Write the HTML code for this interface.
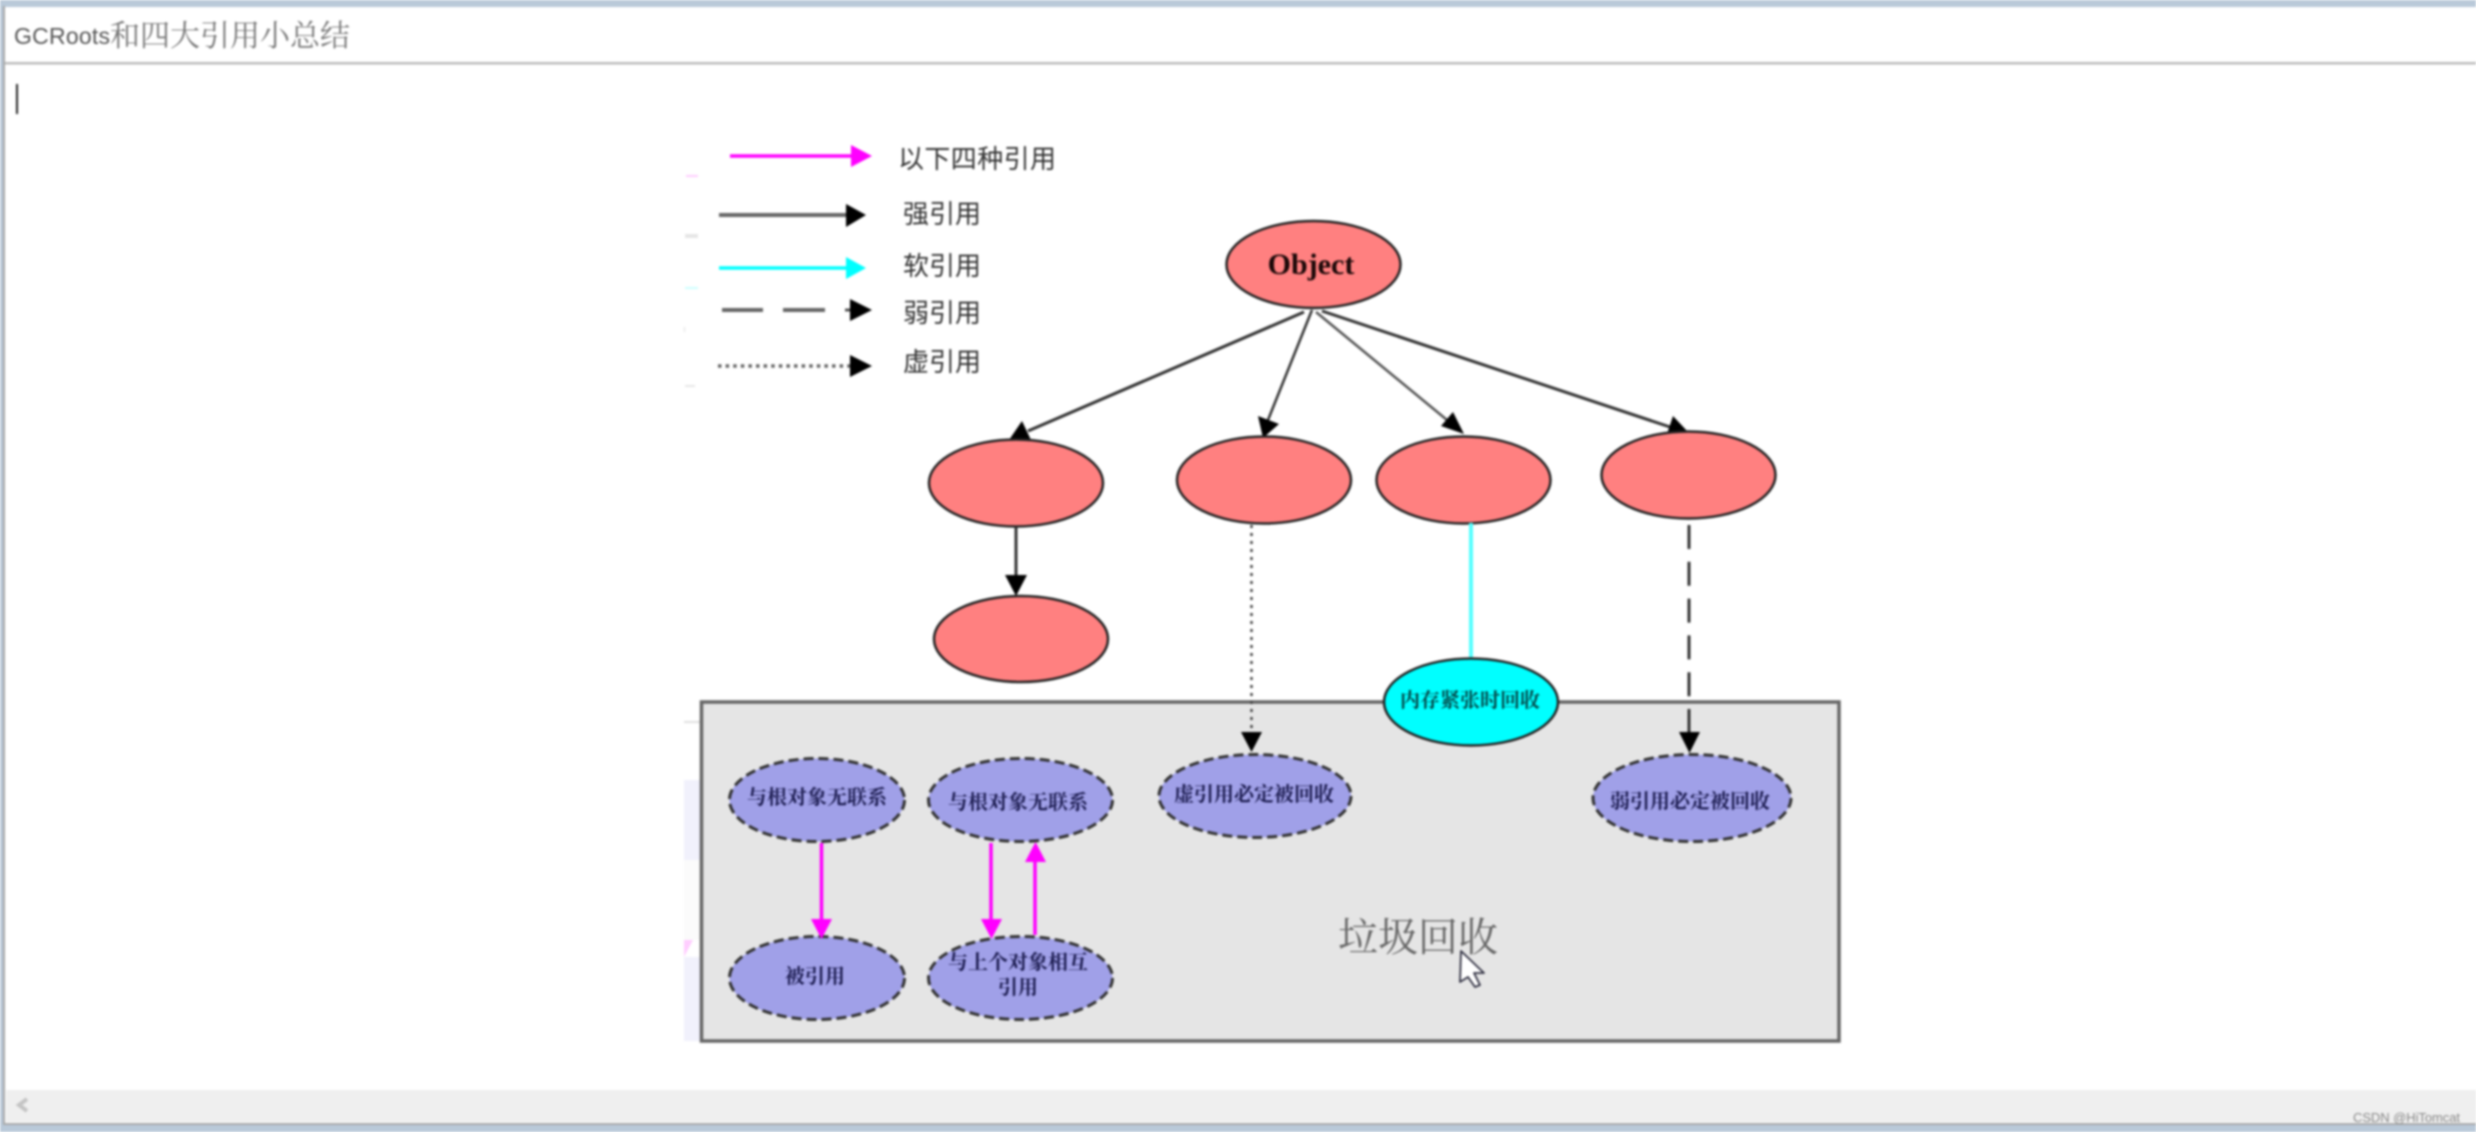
<!DOCTYPE html>
<html><head><meta charset="utf-8"><style>
html,body{margin:0;padding:0;background:#fff;width:2476px;height:1132px;overflow:hidden}
svg{display:block;filter:blur(1px)}
.s{font-family:"Liberation Sans","Noto Sans CJK SC",sans-serif}
.f{font-family:"Liberation Serif","Noto Serif CJK SC",serif}
.lab{font-size:26px;fill:#333;font-family:"Liberation Sans","Noto Sans CJK SC",sans-serif}
.n{font-size:20px;fill:#1c1c50;text-anchor:middle;dominant-baseline:central;font-family:"Liberation Serif","Noto Serif CJK SC",serif;font-weight:700}
.red{fill:#ff8080;stroke:#222;stroke-width:2.5}
.pur{fill:#a0a0e8;stroke:#333;stroke-width:3;stroke-dasharray:10 5}
</style></head><body>
<svg width="2476" height="1132" viewBox="0 0 2476 1132" xmlns="http://www.w3.org/2000/svg">
<rect width="2476" height="1132" fill="#fff"/>
<!-- window frame -->
<rect x="0" y="0" width="2476" height="7" fill="#b9c9d9"/>
<rect x="0" y="0" width="3" height="1132" fill="#b9c9d9"/>
<rect x="3" y="6" width="2" height="1119" fill="#a8a8a8"/>
<rect x="5" y="62" width="2471" height="2.5" fill="#bdbdbd"/>
<rect x="6" y="1090" width="2470" height="32" fill="#efefef"/>
<rect x="3" y="1123" width="2473" height="2" fill="#a8a8a8"/>
<rect x="0" y="1125" width="2476" height="7" fill="#b9c9d9"/>
<polyline points="27,1099 19,1105 27,1111" fill="none" stroke="#c4c4c4" stroke-width="4"/>
<text class="s" x="2353" y="1122" font-size="13" fill="#888" textLength="107">CSDN @HiTomcat</text>
<!-- title -->
<text class="s" x="14" y="44" font-size="23" fill="#555" textLength="96">GCRoots</text>
<text class="f" x="110" y="46" font-size="30" fill="#777">和四大引用小总结</text>
<rect x="16" y="84" width="2" height="30" fill="#222"/>

<!-- faint residue -->
<g opacity=".9">
<rect x="686" y="175" width="12" height="2" fill="#ffc8ff"/>
<rect x="685" y="234" width="13" height="4" fill="#e4e4e4"/>
<rect x="685" y="287" width="13" height="2" fill="#c8ffff"/>
<rect x="684" y="327" width="1" height="5" fill="#ddd"/>
<rect x="685" y="385" width="10" height="2" fill="#e4e4e4"/>
<rect x="684" y="780" width="17" height="80" fill="#f0f0fc"/>
<rect x="684" y="860" width="17" height="80" fill="#fbfbfb"/>
<polygon points="684,940 693,940 684,957" fill="#ffc8ff"/>
<rect x="684" y="957" width="17" height="84" fill="#f0f0fc"/>
<rect x="684" y="721" width="17" height="2" fill="#ddd"/>
</g>

<!-- legend -->
<line x1="730" y1="156" x2="852" y2="156" stroke="#f0f" stroke-width="3.5"/>
<polygon points="851,145 872,156 851,167" fill="#f0f"/>
<text class="lab" x="898" y="168" textLength="158">以下四种引用</text>
<line x1="719" y1="215" x2="847" y2="215" stroke="#666" stroke-width="4"/>
<polygon points="846,204 866,215 846,227" fill="#000"/>
<text class="lab" x="903" y="223">强引用</text>
<line x1="719" y1="268" x2="847" y2="268" stroke="#0ff" stroke-width="3.5"/>
<polygon points="846,257 866,268 846,279" fill="#0ff"/>
<text class="lab" x="903" y="275">软引用</text>
<line x1="722" y1="310" x2="763" y2="310" stroke="#666" stroke-width="4"/>
<line x1="783" y1="310" x2="825" y2="310" stroke="#666" stroke-width="4"/>
<line x1="845" y1="310" x2="851" y2="310" stroke="#555" stroke-width="3"/>
<polygon points="850,299 872,310 850,321" fill="#000"/>
<text class="lab" x="903" y="322">弱引用</text>
<line x1="718" y1="366" x2="850" y2="366" stroke="#666" stroke-width="3.5" stroke-dasharray="3.500 4.100"/>
<polygon points="850,355 872,366 850,377" fill="#000"/>
<text class="lab" x="903" y="371">虚引用</text>

<!-- object arrows -->
<line x1="1304" y1="312" x2="1028" y2="431" stroke="#333" stroke-width="3"/>
<polygon points="1022,421 1009,440 1031,440" fill="#000"/>
<line x1="1312" y1="310" x2="1268" y2="420" stroke="#333" stroke-width="2.5"/>
<polygon points="1258,416 1279,424 1263,438" fill="#000"/>
<line x1="1316" y1="312" x2="1447" y2="420" stroke="#555" stroke-width="2.5"/>
<polygon points="1453,412 1441,426 1464,434" fill="#000"/>
<line x1="1322" y1="311" x2="1670" y2="427" stroke="#333" stroke-width="3"/>
<polygon points="1673,416 1667,434 1688,432" fill="#000"/>

<!-- red nodes -->
<ellipse class="red" cx="1313.500" cy="264.500" rx="87" ry="43.500"/>
<text x="1311" y="274" font-family="Liberation Serif,serif" font-weight="700" font-size="30" text-anchor="middle" fill="#1a0808">Object</text>
<ellipse class="red" cx="1016" cy="483" rx="87" ry="43.500"/>
<ellipse class="red" cx="1264" cy="480" rx="87" ry="43.500"/>
<ellipse class="red" cx="1463.500" cy="480" rx="87" ry="43.500"/>
<ellipse class="red" cx="1688.500" cy="475" rx="87" ry="43.500"/>
<ellipse class="red" cx="1021" cy="639" rx="87" ry="43"/>
<line x1="1016" y1="527" x2="1016" y2="578" stroke="#333" stroke-width="3"/>
<polygon points="1005,575 1027,575 1016,596" fill="#000"/>

<!-- box -->
<rect x="701.500" y="702" width="1137.500" height="339" fill="#e5e5e5" stroke="#666" stroke-width="3.500"/>

<!-- connectors into box -->
<line x1="1251.500" y1="525" x2="1251.500" y2="734" stroke="#444" stroke-width="2.500" stroke-dasharray="3 5"/>
<polygon points="1241,732 1262,732 1251.500,752" fill="#000"/>
<line x1="1471" y1="523" x2="1471" y2="660" stroke="#5ff" stroke-width="4"/>
<line x1="1689" y1="525" x2="1689" y2="734" stroke="#333" stroke-width="3" stroke-dasharray="24 12.800"/>
<polygon points="1679,732 1700,732 1689.500,753" fill="#000"/>

<!-- cyan -->
<ellipse cx="1471" cy="702" rx="87" ry="43.500" fill="#0ff" stroke="#222" stroke-width="2.500"/>
<text class="n" x="1470" y="701" style="fill:#054848">内存紧张时回收</text>

<!-- purple nodes -->
<ellipse class="pur" cx="817" cy="800" rx="87.500" ry="41.500"/>
<text class="n" x="817" y="798">与根对象无联系</text>
<ellipse class="pur" cx="1020.500" cy="800" rx="92" ry="41.500"/>
<text class="n" x="1018" y="803">与根对象无联系</text>
<ellipse class="pur" cx="1255" cy="796" rx="96" ry="41.500"/>
<text class="n" x="1254" y="795">虚引用必定被回收</text>
<ellipse class="pur" cx="1692" cy="798" rx="99" ry="43.500"/>
<text class="n" x="1690" y="802">弱引用必定被回收</text>
<ellipse class="pur" cx="817" cy="978" rx="87.500" ry="41.500"/>
<text class="n" x="815" y="977">被引用</text>
<ellipse class="pur" cx="1020.500" cy="978" rx="92" ry="41.500"/>
<text class="n" x="1018" y="963">与上个对象相互</text>
<text class="n" x="1018" y="988">引用</text>

<!-- magenta arrows -->
<line x1="821.500" y1="843" x2="821.500" y2="921" stroke="#f0f" stroke-width="3.500"/>
<polygon points="811,919 832,919 821.500,939" fill="#f0f"/>
<line x1="991" y1="843" x2="991" y2="921" stroke="#f0f" stroke-width="3.500"/>
<polygon points="981,919 1002,919 991.500,939" fill="#f0f"/>
<line x1="1035" y1="935" x2="1035" y2="860" stroke="#f0f" stroke-width="3.500"/>
<polygon points="1025,862 1046,862 1035.500,842" fill="#f0f"/>

<text x="1338" y="951" font-family="Liberation Serif,Noto Serif CJK SC,serif" font-size="40" fill="#666">垃圾回收</text>

<!-- pointer -->
<polygon points="1461,951 1460,982 1468,977 1475,987 1480,985 1474,973 1484,973" fill="#fff" stroke="#334" stroke-width="1.800" stroke-linejoin="round"/>
</svg>
</body></html>
